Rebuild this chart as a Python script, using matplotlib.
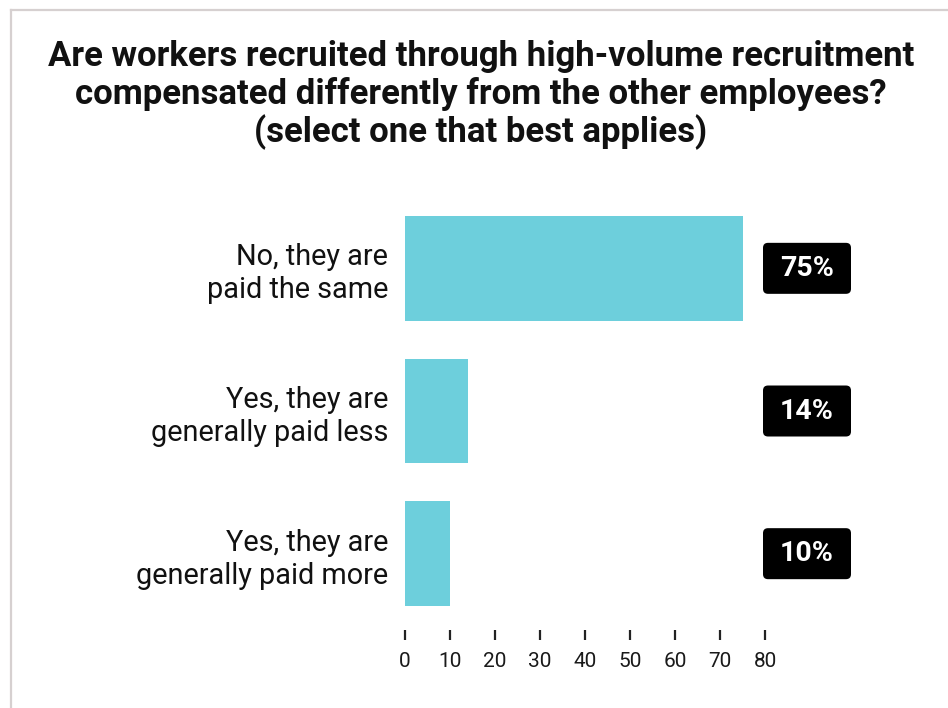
import matplotlib
matplotlib.use("Agg")
import matplotlib.pyplot as plt
from matplotlib.patches import FancyBboxPatch
from matplotlib.lines import Line2D
from matplotlib.transforms import IdentityTransform

plt.rcParams['font.family'] = ['Roboto', 'DejaVu Sans']

# survey answers and share of respondents (%)
answers = ["No, they are\npaid the same",
           "Yes, they are\ngenerally paid less",
           "Yes, they are\ngenerally paid more"]
shares = [75, 14, 10]
share_labels = ["75%", "14%", "10%"]
x_ticks = [0, 10, 20, 30, 40, 50, 60, 70, 80]

title = ("Are workers recruited through high-volume recruitment\n"
         "compensated differently from the other employees?\n"
         "(select one that best applies)")

W, H = 948, 708
fig = plt.figure(figsize=(W / 100, H / 100), dpi=100)
fig.patch.set_facecolor("white")

# card border on the left and top
fig.add_artist(Line2D([11 / W, 11 / W], [0, 1 - 10 / H], color="#d6d0d0", lw=1.6))
fig.add_artist(Line2D([11 / W, 1], [1 - 10 / H, 1 - 10 / H], color="#d6d0d0", lw=1.6))

fig.text(481 / W, 1 - 40 / H, title, ha="center", va="top", fontsize=25,
         fontweight="bold", color="#111111", linespacing=1.13)

ax = fig.add_axes([405 / W, (H - 630) / H, 360 / W, 433 / H])
ypos = list(range(len(answers)))
ax.barh(ypos, shares, height=0.735, color="#6dcfdc")
ax.set_xlim(0, 80)
ax.set_ylim(2.535, -0.5)
ax.set_xticks(x_ticks)
ax.set_yticks(ypos)
ax.set_yticklabels(answers, fontsize=20.8, color="#111111", linespacing=1.22)
ax.tick_params(axis="y", length=0, pad=12)
ax.tick_params(axis="x", direction="out", length=7.5, width=1.6, color="#222222",
               pad=8, labelsize=15, labelcolor="#1a1a1a")
for s in ax.spines.values():
    s.set_visible(False)

# value badges to the right of the plot area
for i, lab in enumerate(share_labels):
    x0, yc = ax.transData.transform((80, i))
    bx = x0 - 2
    box = FancyBboxPatch((bx, yc - 25.5), 88, 51,
                         boxstyle="round,pad=0,rounding_size=5",
                         transform=IdentityTransform(), facecolor="black",
                         edgecolor="none")
    fig.add_artist(box)
    fig.text((bx + 44) / W, yc / H, lab, ha="center", va="center",
             fontsize=20.5, fontweight="bold", color="white")

fig.savefig("out.png", dpi=100, facecolor="white")
